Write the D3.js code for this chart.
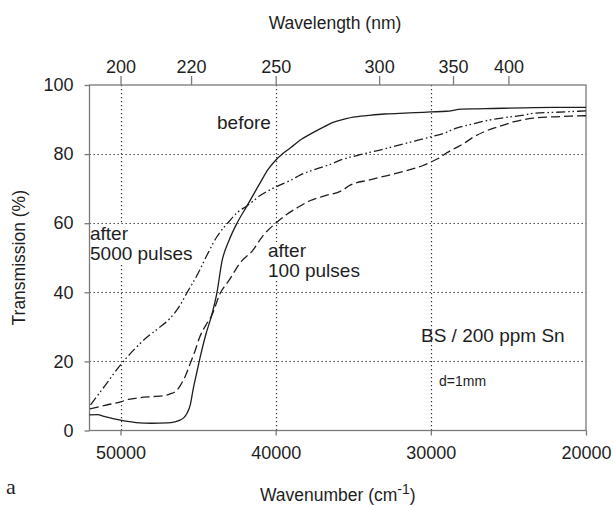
<!DOCTYPE html>
<html>
<head>
<meta charset="utf-8">
<script src="https://cdn.jsdelivr.net/npm/d3@7"></script>
<style>
  html, body { margin: 0; padding: 0; background: #fff; }
  svg { display: block; font-family: "Liberation Sans", Arial, sans-serif; }
</style>
</head>
<body>
<svg id="chart" width="614" height="507"></svg>
<script>
// Transmission spectra of BS glass doped with 200 ppm Sn, before and after laser pulses.
// Wavenumbers in cm^-1, transmission in %.
const beforeWn = [52000, 51500, 51000, 50000, 49000, 48000, 47000, 46500, 46170, 45900, 45716, 45500, 45329, 45100, 44878, 44490, 44124, 43782, 43460, 43009, 42494, 41850, 41012, 40500, 40046, 39500, 39000, 38437, 37597, 36800, 36306, 35500, 35017, 34000, 33000, 32000, 31000, 30000, 29000, 28000, 27000, 26000, 24000, 22000, 20000];
const beforeT  = [4.5, 4.6, 4.0, 3.0, 2.3, 2.1, 2.2, 2.5, 3.0, 3.8, 5.0, 7.5, 11.7, 16.5, 21, 28, 33.4, 40, 49, 55, 60, 65, 71.6, 75.5, 78, 80.3, 82, 84, 86.2, 88.1, 89.2, 90.2, 90.7, 91.2, 91.6, 91.8, 92.0, 92.2, 92.4, 93.0, 93.1, 93.2, 93.4, 93.5, 93.5];

const after5000Wn = [52000, 51000, 50000, 49000, 48300, 47500, 46800, 46200, 45700, 45000, 44400, 43800, 43000, 42500, 41850, 41000, 40000, 39000, 38400, 37500, 36500, 35800, 34400, 33000, 32000, 31000, 30000, 29000, 28500, 27500, 26500, 25000, 24000, 23400, 22000, 21000, 20000];
const after5000T  = [7.0, 13, 19, 24, 27, 29.8, 32.5, 36, 40, 45.5, 51, 56, 60.5, 63, 65, 68, 70.5, 72.5, 74, 75.5, 77, 78.3, 80, 81.5, 82.7, 83.8, 85, 86.3, 87.3, 88.5, 89.6, 90.7, 91.3, 91.8, 92.1, 92.3, 92.5];

const after100Wn = [52000, 51000, 50000, 49500, 48750, 48000, 47200, 46800, 46400, 46150, 45800, 45500, 45200, 44900, 44500, 44100, 43600, 43000, 42300, 41500, 40800, 40000, 39300, 38600, 37800, 36800, 35800, 35200, 34000, 32800, 31500, 30500, 30000, 29500, 29000, 28400, 27900, 27300, 26600, 25600, 24700, 23400, 22000, 21000, 20000];
const after100T  = [6.2, 7.3, 8.3, 9.0, 9.5, 9.8, 10.1, 10.6, 11.5, 13, 16, 19.5, 23, 27, 30.5, 33.5, 39.5, 43.5, 48.5, 52, 56.5, 60, 62.5, 64.5, 66.5, 68, 69.3, 71, 72.5, 73.8, 75.3, 76.7, 77.7, 78.8, 80.3, 81.8, 83, 84.8, 86.4, 88, 89.3, 90.4, 90.8, 91.0, 91.1];

// Axis ticks
const wnTicks = [50000, 40000, 30000, 20000];
const wlTicks = [200, 220, 250, 300, 350, 400];   // nm, placed at 1e7 / nm
const tTicks  = [0, 20, 40, 60, 80, 100];
const gridWn  = [50000, 40000, 30000];
const gridT   = [20, 40, 60, 80];

const svg = d3.select("#chart");
const plotL = 89.5, plotR = 586, plotT = 85, plotB = 430.5;

const x = d3.scaleLinear().domain([52000, 20000]).range([plotL, plotR]);
const y = d3.scaleLinear().domain([0, 100]).range([plotB, plotT]);

const frameColor = "#7a7a7a";
const textColor = "#1e1e1e";
const fsTick = 18, fsTitle = 17.5, fsNote = 19;

// Dotted grid
const grid = svg.append("g").attr("stroke", "#333").attr("stroke-width", 1.2)
  .attr("stroke-dasharray", "1.3,2.7").attr("fill", "none");
grid.selectAll("line.v").data(gridWn).join("line").attr("class", "v")
  .attr("x1", d => Math.round(x(d)) + 0.5).attr("x2", d => Math.round(x(d)) + 0.5)
  .attr("y1", plotT).attr("y2", plotB);
grid.selectAll("line.h").data(gridT).join("line").attr("class", "h")
  .attr("x1", plotL).attr("x2", plotR)
  .attr("y1", d => Math.round(y(d)) + 0.5).attr("y2", d => Math.round(y(d)) + 0.5);

// Annotations (the "after" labels sit on an opaque box over the grid)
const notes = svg.append("g").attr("fill", textColor);
function note(lines, x0, y0, size, boxed) {
  const g = notes.append("g");
  const t = g.append("text").attr("font-size", size);
  lines.forEach((s, i) => t.append("tspan").attr("x", x0).attr("y", y0 + i * 20).text(s));
  if (boxed) {
    const b = t.node().getBBox();
    g.insert("rect", "text").attr("x", b.x - 1).attr("y", b.y + 2)
      .attr("width", b.width + 2).attr("height", b.height - 3).attr("fill", "#fff");
  }
}
note(["before"], 217, 129, fsNote, false);
note(["after", "5000 pulses"], 90, 240, fsNote, true);
note(["after", "100 pulses"], 268, 257, fsNote, true);
note(["BS / 200 ppm Sn"], 421, 342, fsNote, false);
note(["d=1mm"], 439, 386, 14, false);

// Frame
svg.append("rect").attr("x", plotL).attr("y", plotT)
  .attr("width", plotR - plotL).attr("height", plotB - plotT)
  .attr("fill", "none").attr("stroke", frameColor).attr("stroke-width", 1.3);

function styleAxis(g) {
  g.select(".domain").remove();
  g.selectAll(".tick line").attr("stroke", frameColor).attr("stroke-width", 1.3);
  g.selectAll(".tick text").attr("fill", textColor)
    .attr("font-size", fsTick).attr("font-family", "Liberation Sans, Arial, sans-serif");
}

// Bottom axis: wavenumber
svg.append("g").attr("transform", `translate(0,${plotB})`)
  .call(d3.axisBottom(x).tickValues(wnTicks).tickFormat(d3.format("d")).tickSize(5).tickPadding(11))
  .call(styleAxis);

// Left axis: transmission
svg.append("g").attr("transform", `translate(${plotL},0)`)
  .call(d3.axisLeft(y).tickValues(tTicks).tickSize(5).tickPadding(11))
  .call(styleAxis);

// Top axis: wavelength
svg.append("g").attr("transform", `translate(0,${plotT})`)
  .call(d3.axisTop(x).tickValues(wlTicks.map(l => 1e7 / l))
    .tickFormat((d, i) => wlTicks[i]).tickSize(9).tickPadding(3))
  .call(styleAxis);

// Axis titles
svg.append("text").attr("x", 335).attr("y", 29)
  .attr("text-anchor", "middle").attr("font-size", fsTitle).attr("fill", textColor)
  .text("Wavelength (nm)");

svg.append("text").attr("transform", `translate(25,${(plotT + plotB) / 2}) rotate(-90)`)
  .attr("text-anchor", "middle").attr("font-size", fsTitle).attr("fill", textColor)
  .text("Transmission (%)");

const xt = svg.append("text").attr("x", (plotL + plotR) / 2).attr("y", 501)
  .attr("text-anchor", "middle").attr("font-size", fsTitle).attr("fill", textColor);
xt.append("tspan").text("Wavenumber (cm");
xt.append("tspan").attr("dy", -7).attr("font-size", 14).text("-1");
xt.append("tspan").attr("dy", 7).text(")");

svg.append("text").attr("x", 6).attr("y", 494)
  .attr("font-family", "Liberation Serif, Times New Roman, serif")
  .attr("font-size", 22).attr("fill", textColor).text("a");

// Curves
const line = d3.line().x(d => x(d[0])).y(d => y(d[1])).curve(d3.curveMonotoneX);
const zip = (a, b) => a.map((v, i) => [v, b[i]]);
const curves = [
  { wn: beforeWn, t: beforeT, dash: null },
  { wn: after100Wn, t: after100T, dash: "9,4" },
  { wn: after5000Wn, t: after5000T, dash: "9,3,1.6,2.6,1.6,3" }
];
svg.append("g").selectAll("path").data(curves).join("path")
  .attr("d", d => line(zip(d.wn, d.t).sort((p, q) => p[0] - q[0])))
  .attr("fill", "none").attr("stroke", "#1e1e1e").attr("stroke-width", 1.3)
  .attr("stroke-dasharray", d => d.dash);
</script>
</body>
</html>
